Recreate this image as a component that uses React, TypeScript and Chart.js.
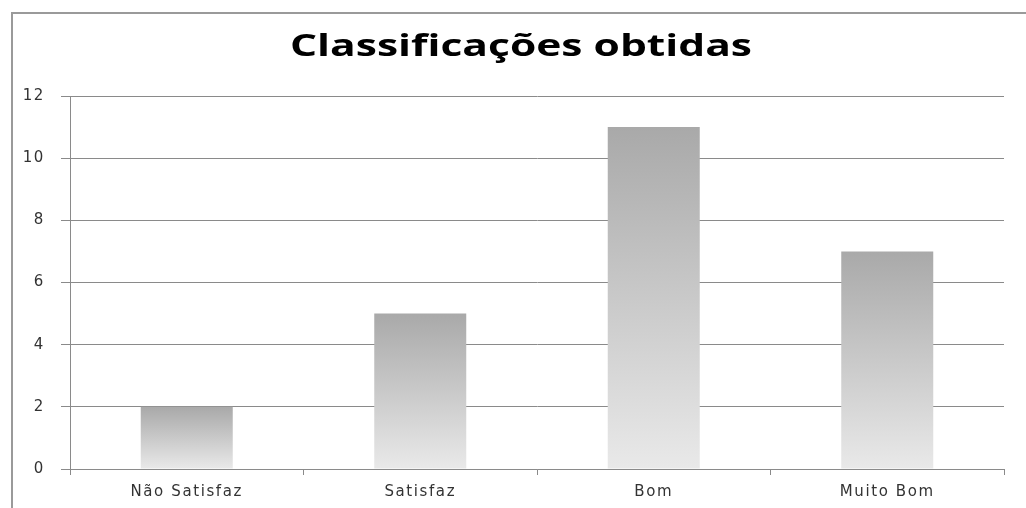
import React, { useEffect, useRef } from "react";
import { Chart, registerables } from "chart.js";

Chart.register(...registerables);

const titleText = "Classificações obtidas";
const categories = ["Não Satisfaz", "Satisfaz", "Bom", "Muito Bom"];
const values = [2, 5, 11, 7];
const yMin = 0;
const yMax = 12;
const yStep = 2;

const framePlugin = {
  id: "frame",
  beforeDraw(chart: any) {
    const { ctx, width, height } = chart;
    ctx.save();
    ctx.fillStyle = "#ffffff";
    ctx.fillRect(0, 0, width, height);
    ctx.strokeStyle = "#9a9a9a";
    ctx.lineWidth = 2;
    ctx.beginPath();
    ctx.moveTo(12, height);
    ctx.lineTo(12, 13);
    ctx.lineTo(width, 13);
    ctx.stroke();
    ctx.restore();
    (ctx as any).letterSpacing = "1.6px";
  },
  afterDraw(chart: any) {
    const { ctx } = chart;
    (ctx as any).letterSpacing = "0px";
    ctx.save();
    ctx.font = "bold 30px 'Open Sans', sans-serif";
    ctx.fillStyle = "#000000";
    ctx.textAlign = "left";
    ctx.textBaseline = "alphabetic";
    const w = ctx.measureText(titleText).width;
    const targetW = 462;
    const sx = targetW / w;
    ctx.translate(521 - targetW / 2, 56);
    ctx.scale(sx, 1);
    ctx.fillText(titleText, 0, 0);
    ctx.restore();
  },
};

export default function App() {
  const ref = useRef<HTMLCanvasElement>(null);
  useEffect(() => {
    if (!ref.current) return;
    const chart = new Chart(ref.current, {
      type: "bar",
      data: {
        labels: categories,
        datasets: [
          {
            data: values,
            backgroundColor: (c: any) => {
              const ch = c.chart;
              const ys = ch.scales?.y;
              if (!ys || c.dataIndex === undefined) return "#c8c8c8";
              const v = c.dataset.data[c.dataIndex];
              const top = ys.getPixelForValue(v);
              const bottom = ys.getPixelForValue(0);
              if (!isFinite(top) || !isFinite(bottom) || top === bottom) return "#c8c8c8";
              const g = ch.ctx.createLinearGradient(0, top, 0, bottom);
              g.addColorStop(0, "#a9a9a9");
              g.addColorStop(1, "#e9e9e9");
              return g;
            },
            borderWidth: 0,
            barPercentage: 0.394,
            categoryPercentage: 1,
          },
        ],
      },
      options: {
        animation: false,
        responsive: false,
        maintainAspectRatio: false,
        layout: { padding: { left: 0, right: 22, top: 96, bottom: 0 } },
        plugins: {
          legend: { display: false },
          tooltip: { enabled: false },
          title: { display: false },
        },
        scales: {
          x: {
            offset: true,
            grid: {
              display: true,
              offset: true,
              drawOnChartArea: false,
              drawTicks: true,
              tickLength: 6,
              color: "#8a8a8a",
            },
            border: { display: true, color: "#8a8a8a", width: 1 },
            ticks: {
              color: "#333333",
              padding: 8,
              font: { family: "'DejaVu Sans', sans-serif", size: 15 },
            },
            afterFit: (s: any) => {
              s.height = 39;
            },
          },
          y: {
            min: yMin,
            max: yMax,
            grid: {
              color: "#8a8a8a",
              tickLength: 9,
              drawTicks: true,
            },
            border: { display: true, color: "#8a8a8a", width: 1 },
            ticks: {
              stepSize: yStep,
              color: "#333333",
              padding: 16,
              font: { family: "'DejaVu Sans', sans-serif", size: 15 },
            },
            afterFit: (s: any) => {
              s.width = 70;
            },
          },
        },
      },
      plugins: [framePlugin],
    });
    return () => chart.destroy();
  }, []);
  return (
    <div style={{ position: "fixed", left: 0, top: 0, width: 1026, height: 508 }}>
      <canvas ref={ref} width={1026} height={508} style={{ width: 1026, height: 508 }} />
    </div>
  );
}
